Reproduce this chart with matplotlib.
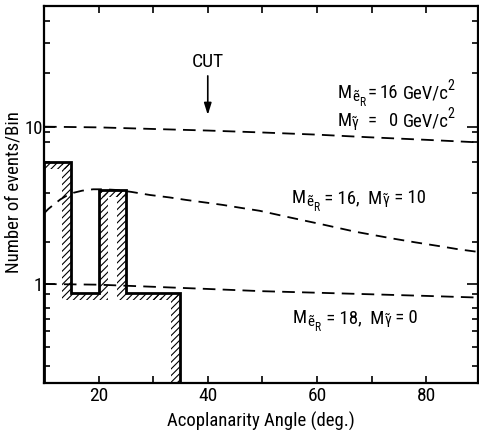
import matplotlib
matplotlib.use("Agg")
import matplotlib.pyplot as plt
from matplotlib import font_manager as fm
from matplotlib.patches import Rectangle
from matplotlib.ticker import FixedLocator, NullFormatter, FixedFormatter


def pick_font():
    fl = fm.fontManager.ttflist
    def regular(f):
        return f.style == 'normal' and f.weight in (400, 'normal', 'regular', 'book')
    for key in ('liberation sans narrow', 'roboto condensed', 'dejavu sans condensed',
                'open sans condensed', 'noto sans condensed', 'narrow', 'condensed'):
        for f in fl:
            if key in f.name.lower() and regular(f):
                return f.name, 'normal'
    for f in fl:
        if regular(f) and str(f.stretch) in ('condensed', 'semi-condensed', 'extra-condensed'):
            return f.name, str(f.stretch)
    return 'DejaVu Sans', 'normal'


FNAME, FSTRETCH = pick_font()
plt.rcParams['font.family'] = [FNAME, 'DejaVu Sans']
plt.rcParams['font.stretch'] = FSTRETCH
spec = FNAME + (':stretch=' + FSTRETCH if FSTRETCH != 'normal' else '')
plt.rcParams['mathtext.fontset'] = 'custom'
plt.rcParams['mathtext.rm'] = spec
plt.rcParams['mathtext.it'] = spec
plt.rcParams['mathtext.bf'] = spec
plt.rcParams['mathtext.sf'] = spec
plt.rcParams['hatch.linewidth'] = 0.8

# ---------------- data ----------------
hist_edges = [10, 15, 20, 25, 30, 35]
hist_counts = [6.0, 0.88, 3.96, 0.88, 0.88]

curve1_x = [10, 20, 30, 40, 49.5, 60, 69.4, 80, 89.5]
curve1_y = [10.0, 9.9, 9.67, 9.45, 9.2, 8.9, 8.57, 8.25, 7.95]

curve2_x = [10, 10.8, 11.7, 13, 14.2, 15.4, 17, 19, 21, 23.3, 26, 29.4, 33, 36.1, 40, 42.8, 46, 49.5, 55, 61.5, 67, 73.7, 78, 82.9, 86, 89.5]
curve2_y = [2.81, 3.0, 3.18, 3.45, 3.65, 3.8, 3.92, 4.0, 4.0, 3.96, 3.85, 3.68, 3.55, 3.42, 3.28, 3.18, 3.05, 2.92, 2.65, 2.37, 2.15, 1.95, 1.84, 1.73, 1.66, 1.60]

curve3_x = [10, 20, 30, 40, 50, 60, 70, 80, 89.5]
curve3_y = [1.0, 0.99, 0.96, 0.93, 0.90, 0.88, 0.86, 0.84, 0.82]

cut_angle = 40

x_ticks = [20, 40, 60, 80]
x_minor = [30, 50, 70]
y_ticks = [1, 10]
y_ticklabels = ['1', '10']

# ---------------- figure ----------------
fig = plt.figure(figsize=(4.79, 4.30), dpi=100)
ax = fig.add_axes([44 / 479, (430 - 382.5) / 430, 434 / 479, 376.5 / 430])
ax.set_yscale('log')
ylow, yhigh = 0.2365, 58.5
ax.set_xlim(10, 89.5)
ax.set_ylim(ylow, yhigh)

# histogram outline
ax.stairs(hist_counts, hist_edges, baseline=1e-3, color='black', lw=2.0, zorder=4)

# hatched inner band along the outline
dx = 1.65
f = 0.903
HATCH = '/////'
vals = list(hist_counts) + [0.0]
for i in range(len(hist_counts)):
    v = hist_counts[i]
    ax.add_patch(Rectangle((hist_edges[i], v * f), hist_edges[i + 1] - hist_edges[i], v - v * f,
                           fill=False, hatch=HATCH, lw=0, edgecolor='black', zorder=3))
    e = hist_edges[i + 1]
    nxt = vals[i + 1]
    if v > nxt:
        lo = nxt * f if nxt > 0 else ylow
        ax.add_patch(Rectangle((e - dx, lo), dx, v - lo, fill=False, hatch=HATCH,
                               lw=0, edgecolor='black', zorder=3))
    else:
        lo = v * f
        ax.add_patch(Rectangle((e, lo), dx, nxt - lo, fill=False, hatch=HATCH,
                               lw=0, edgecolor='black', zorder=3))

# dashed curves
ax.plot(curve1_x, curve1_y, color='black', lw=1.3, dashes=(7.0, 4.0), zorder=5)
ax.plot(curve2_x, curve2_y, color='black', lw=1.3, dashes=(6.0, 4.0), zorder=5)
ax.plot(curve3_x, curve3_y, color='black', lw=1.3, dashes=(7.0, 4.0), zorder=5)

# CUT arrow
ax.text(cut_angle, 25.8, 'CUT', ha='center', va='center', fontsize=14)
ax.annotate('', xy=(cut_angle, 11.4), xytext=(cut_angle, 21.9),
            arrowprops=dict(arrowstyle='-|>,head_length=0.7,head_width=0.22', color='black', lw=1.2))

# ---------------- annotations ----------------
FS = 13.5
E_TILDE = '\u1ebd'          # e with tilde
G_TILDE = '\u03b3\u0303'    # gamma with combining tilde


def chain(x, y, pieces):
    """pieces: (text, size, baseline shift in points, gap in points)"""
    s0, k0, sh0, _ = pieces[0]
    prev = ax.text(x, y, s0, transform=ax.transAxes, fontsize=k0, va='baseline', ha='left')
    for s, k, sh, gap in pieces[1:]:
        prev = ax.annotate(s, xy=(1.0, y), xycoords=(prev, 'axes fraction'),
                           xytext=(gap, sh), textcoords='offset points',
                           fontsize=k, va='baseline', ha='left')
    return prev


def m_eR():
    return [('M', FS, 0, 0), (E_TILDE, FS * 0.8, -2.0, 0.0), ('R', FS * 0.62, -6.0, 0.0)]


def m_ph():
    return [('M', FS, 0, 0), (G_TILDE, FS * 0.8, -0.8, 0.0)]


y1, y2 = 0.7556, 0.681
chain(0.677, y1, m_eR())
chain(0.677, y2, m_ph())
for yy, num in ((y1, '16'), (y2, '0')):
    ax.text(0.746, yy, '=', transform=ax.transAxes, fontsize=FS, va='baseline', ha='left')
    ax.text(0.816, yy, num, transform=ax.transAxes, fontsize=FS, va='baseline', ha='right')
    chain(0.826, yy, [('GeV/c', FS, 0, 0), ('2', FS * 0.75, 5.5, -0.6)])

chain(0.571, 0.477, m_eR() + [(' = 16,  M', FS, 0, 1.0), (G_TILDE, FS * 0.8, -0.8, 0.0),
                              (' = 10', FS, 0, 0.5)])
chain(0.574, 0.158, m_eR() + [(' = 18,  M', FS, 0, 1.0), (G_TILDE, FS * 0.8, -0.8, 0.0),
                              (' = 0', FS, 0, 0.5)])

# ---------------- axes styling ----------------
for s in ax.spines.values():
    s.set_linewidth(1.6)

ax.xaxis.set_major_locator(FixedLocator(x_ticks))
ax.xaxis.set_minor_locator(FixedLocator(x_minor))
ax.yaxis.set_major_locator(FixedLocator(y_ticks))
ax.yaxis.set_major_formatter(FixedFormatter(y_ticklabels))
ax.yaxis.set_minor_locator(FixedLocator([0.3, 0.4, 0.5, 0.6, 0.7, 0.87, 1.85, 3.8, 6, 8, 9.3, 22, 34, 47]))
ax.yaxis.set_minor_formatter(NullFormatter())
ax.tick_params(which='both', direction='in', top=True, right=True, width=1.2)
ax.tick_params(axis='x', which='both', length=5, labelsize=14, pad=3)
ax.tick_params(axis='y', which='major', length=8, labelsize=13.5, pad=1)
ax.tick_params(axis='y', which='minor', length=4)

ax.set_xlabel('Acoplanarity Angle (deg.)', fontsize=13.5)
ax.xaxis.set_label_coords(0.5, -0.078)
ax.set_ylabel('Number of events/Bin', fontsize=13.5)
ax.yaxis.set_label_coords(-0.049, 0.505)

fig.savefig('out.png', dpi=100)
